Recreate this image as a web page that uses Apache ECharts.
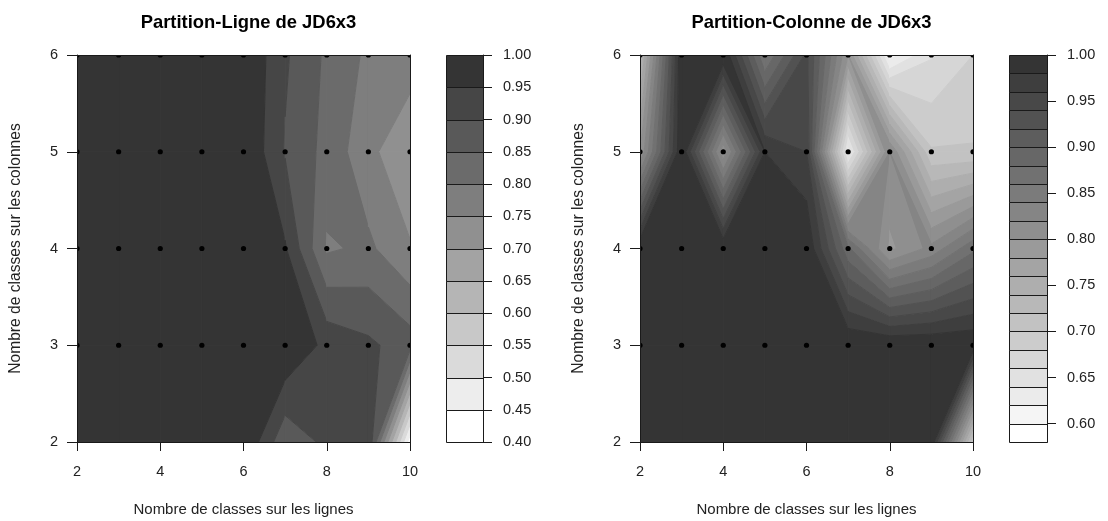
<!DOCTYPE html>
<html><head><meta charset="utf-8">
<style>html,body{margin:0;padding:0;background:#fff}#c{width:1108px;height:521px}</style>
<script src="https://cdn.jsdelivr.net/npm/echarts@6/dist/echarts.min.js"></script>
</head><body><div id="c"></div>
<script>
const xClasses = [2,3,4,5,6,7,8,9,10];
const yClasses = [6,5,4,3,2];
const dotRows = [6,5,4,3];
const ligneRow6 = [1,1,1,1,1,.907,.841,.79,.78];
const ligneRow5 = [1,1,1,1,1,.896,.834,.765,.705];
const ligneRow4 = [1,1,1,1,1,.955,.793,.81,.755];
const ligneRow3 = [1,1,1,1,1,1,.935,.91,.874];
const ligneRow2 = [1,1,1,1,1,.862,.913,.947,.42];
const colonneRow6 = [.73,1,1,.86,.945,.80,.61,.658,.68];
const colonneRow5 = [.80,1,.805,.98,.96,.63,.82,.702,.702];
const colonneRow4 = [1,1,1,1,1,.885,.795,.826,.875];
const colonneRow3 = [1,1,1,1,1,1,1,1,1];
const colonneRow2 = [1,1,1,1,1,1,1,1,.70];
const ligneLevels = [.40,.45,.50,.55,.60,.65,.70,.75,.80,.85,.90,.95,1.00];
const colonneLevels = [.58,.60,.62,.64,.66,.68,.70,.72,.74,.76,.78,.80,.82,.84,.86,.88,.90,.92,.94,.96,.98,1.00];
const ligneTicks = [.40,.45,.50,.55,.60,.65,.70,.75,.80,.85,.90,.95,1.00];
const colonneTicks = [.60,.65,.70,.75,.80,.85,.90,.95,1.00];
const ligneGrid = [ligneRow6,ligneRow5,ligneRow4,ligneRow3,ligneRow2];
const colonneGrid = [colonneRow6,colonneRow5,colonneRow4,colonneRow3,colonneRow2];

const FONT = '"Liberation Sans", Arial, sans-serif';
const DARK = 52, LIGHT = 255;
function bandColor(k, n){ const g = Math.round(LIGHT - (LIGHT-DARK)*k/(n-1)); return `rgb(${g},${g},${g})`; }

function clip(poly, lev, above){
  const out = [];
  for (let i=0;i<poly.length;i++){
    const a = poly[i], b = poly[(i+1)%poly.length];
    const ia = above ? a[2]>=lev : a[2]<=lev, ib = above ? b[2]>=lev : b[2]<=lev;
    if (ia) out.push(a);
    if (ia!==ib){ const t=(lev-a[2])/(b[2]-a[2]); out.push([a[0]+(b[0]-a[0])*t,a[1]+(b[1]-a[1])*t,lev]); }
  }
  return out;
}
function contourItem(grid, levels){
  return function(params, api){
    const i = api.value(0), j = api.value(1);
    const x0=xClasses[i], x1=xClasses[i+1], y0=yClasses[j], y1=yClasses[j+1];
    const quad=[[x0,y0,grid[j][i]],[x1,y0,grid[j][i+1]],[x1,y1,grid[j+1][i+1]],[x0,y1,grid[j+1][i]]];
    const kids=[];
    for(let k=0;k<levels.length-1;k++){
      let p=clip(quad,levels[k],true); if(p.length<3) continue;
      p=clip(p,levels[k+1],false); if(p.length<3) continue;
      const c=bandColor(k,levels.length-1);
      kids.push({type:'polygon',shape:{points:p.map(q=>api.coord([q[0],q[1]]))},style:{fill:c,stroke:c,lineWidth:1,lineJoin:'round'}});
    }
    return {type:'group',children:kids};
  };
}
function legendItem(levels){
  return function(params, api){
    const k=api.value(0);
    const a=api.coord([0,levels[k+1]]), b=api.coord([1,levels[k]]);
    return {type:'rect',shape:{x:Math.round(a[0])+.5,y:Math.round(a[1])+.5,width:Math.round(b[0]-a[0]),height:Math.round(b[1])-Math.round(a[1])},
      style:{fill:bandColor(k,levels.length-1),stroke:'#1a1a1a',lineWidth:1}};
  };
}
function dotItem(params, api){
  const p=api.coord([api.value(0),api.value(1)]);
  return {type:'circle',shape:{cx:p[0],cy:p[1],r:2.6},style:{fill:'#000'}};
}
const cells=[]; xClasses.slice(0,-1).forEach((_,i)=>yClasses.slice(0,-1).forEach((_,j)=>cells.push([i,j])));
const dots=[]; xClasses.forEach(x=>dotRows.forEach(y=>dots.push([x,y])));

const tick={color:'#222',fontFamily:FONT,fontSize:14.5};
const nameX={color:'#222',fontFamily:FONT,fontSize:15};
const nameY={color:'#222',fontFamily:FONT,fontSize:15.6};
const INK='#1a1a1a';
const layout=[{l:77,leg:446,legW:37,title:'Partition-Ligne de JD6x3',grid:ligneGrid,lev:ligneLevels,ticks:ligneTicks},
              {l:640,leg:1009,legW:38,title:'Partition-Colonne de JD6x3',grid:colonneGrid,lev:colonneLevels,ticks:colonneTicks}];
const option={animation:false,backgroundColor:'#fff',title:[],grid:[],xAxis:[],yAxis:[],series:[]};
layout.forEach((L,n)=>{
  option.title.push({text:L.title,left:L.l+166.5,top:9,textAlign:'center',textStyle:{fontFamily:FONT,fontWeight:'bold',fontSize:18.4,color:'#000'}});
  const g=n*2, ax=n*3;
  option.grid.push({left:L.l,top:55,width:333,height:387,outerBoundsMode:'none'},{left:L.leg,top:55,width:L.legW,height:387,outerBoundsMode:'none'});
  const line={show:true,lineStyle:{color:INK,width:1}};
  option.xAxis.push({type:'value',gridIndex:g,min:2,max:10,interval:2,z:5,name:'Nombre de classes sur les lignes',nameLocation:'middle',nameGap:60,
    nameTextStyle:nameX,axisLine:{...line,onZero:false},axisTick:{show:true,length:9,lineStyle:{color:INK}},axisLabel:{...tick,margin:22},splitLine:{show:false}});
  option.xAxis.push({type:'value',gridIndex:g,position:'top',min:2,max:10,interval:2,z:5,axisLine:{...line,onZero:false},axisTick:{show:false},axisLabel:{show:false},splitLine:{show:false}});
  option.xAxis.push({type:'value',gridIndex:g+1,min:0,max:1,show:false,splitLine:{show:false}});
  option.yAxis.push({type:'value',gridIndex:g,min:2,max:6,interval:1,z:5,name:'Nombre de classes sur les colonnes',nameLocation:'middle',nameGap:53,
    nameTextStyle:nameY,axisLine:{...line,onZero:false},axisTick:{show:true,length:10,lineStyle:{color:INK}},axisLabel:{...tick,margin:19},splitLine:{show:false}});
  option.yAxis.push({type:'value',gridIndex:g,position:'right',min:2,max:6,interval:1,z:5,axisLine:{...line,onZero:false},axisTick:{show:false},axisLabel:{show:false},splitLine:{show:false}});
  option.yAxis.push({type:'value',gridIndex:g+1,position:'right',min:L.lev[0],max:1,z:5,axisLine:{...line,onZero:false},
    axisTick:{show:true,length:9,lineStyle:{color:INK},customValues:L.ticks},
    axisLabel:{...tick,margin:20,customValues:L.ticks,formatter:v=>v.toFixed(2)},splitLine:{show:false}});
  option.series.push({type:'custom',xAxisIndex:ax,yAxisIndex:ax,data:cells,renderItem:contourItem(L.grid,L.lev),silent:true,z:2,clip:true,encode:{x:[],y:[]}});
  option.series.push({type:'custom',xAxisIndex:ax,yAxisIndex:ax,data:dots,renderItem:dotItem,clip:true,silent:true,z:3,encode:{x:0,y:1}});
  option.series.push({type:'custom',xAxisIndex:ax+2,yAxisIndex:ax+2,data:L.lev.slice(0,-1).map((_,k)=>[k]),renderItem:legendItem(L.lev),silent:true,z:2,encode:{x:[],y:[]}});
});
echarts.init(document.getElementById('c'),null,{renderer:'canvas'}).setOption(option);
</script></body></html>
